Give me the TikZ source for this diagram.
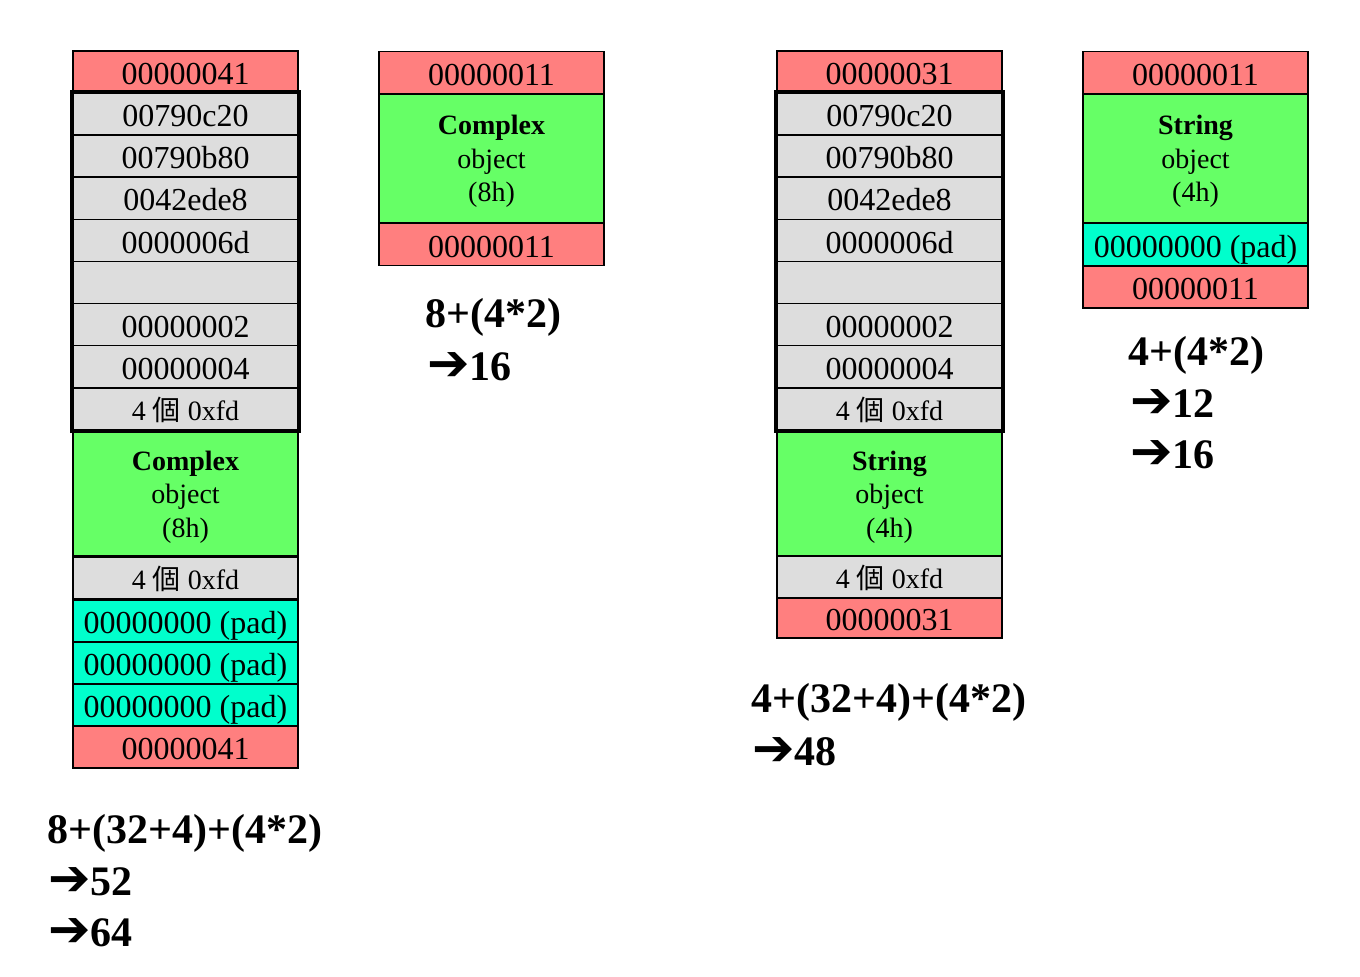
\documentclass[tikz,border=0pt]{standalone}
\usepackage{fontspec}
\setmainfont{Liberation Serif}
\newfontfamily\cjkfont{Noto Sans CJK TC}
\newfontfamily\symfont{DejaVu Sans}
\usetikzlibrary{positioning}
\definecolor{hdrred}{HTML}{FF7F7F}
\definecolor{cellgray}{HTML}{DDDDDD}
\definecolor{objgreen}{HTML}{66FF66}
\definecolor{padcyan}{HTML}{00FFCC}
\newcommand{\fdbytes}{4 {\cjkfont 個} 0xfd}
\newcommand{\arr}{{\symfont\bfseries\fontsize{38}{38}\selectfont ➔}}
\tikzset{
	cell/.style={draw,rectangle,line width=1.1pt,minimum width=168.75pt,minimum height=31.5pt,inner sep=0pt,text height=19pt,text depth=0pt,font=\fontsize{24}{26}\selectfont},
	hdr/.style={cell,fill=hdrred},
	word/.style={cell,fill=cellgray},
	fd/.style={word,text height=17pt,font=\fontsize{21}{24}\selectfont},
	obj/.style={draw,rectangle,line width=1.1pt,minimum width=168.75pt,inner sep=0pt,fill=objgreen,align=center,text depth=0pt,font=\fontsize{21}{25}\selectfont},
	pad/.style={cell,fill=padcyan},
	sum/.style={anchor=west,inner sep=0pt,font=\bfseries\fontsize{31.5}{34}\selectfont},
	block/.style={draw,line width=3pt}
}
\begin{document}
\begin{tikzpicture}[x=0.75pt,y=-0.75pt]
	\useasboundingbox (0,0) rectangle (1360,976);
	% Complex, debug heap
	\node[hdr] (ahead) at (185.5,72) {00000041};
	\foreach \t [count=\i] in {00790c20,00790b80,0042ede8,0000006d,{},00000002,00000004}
		\node[word] (a\i) at (185.5,{93+42.1*(\i-0.5)}) {\t};
	\node[fd] (a8) at (185.5,409.5) {\fdbytes};
	\draw[block] (a1.north west) rectangle (a8.south east);
	\node[obj,minimum height=93pt] (aobj) at (185.5,494) {\textbf{Complex}\\object\\(8h)};
	\node[fd] (afd) at (185.5,578) {\fdbytes};
	\node[pad] (apad1) at (185.5,621) {00000000 (pad)};
	\node[pad] (apad2) at (185.5,663) {00000000 (pad)};
	\node[pad] (apad3) at (185.5,705) {00000000 (pad)};
	\node[hdr] (atail) at (185.5,747) {00000041};
	\node[sum] (asum) at (47,833) {8+(32+4)+(4*2)};
	\node[sum] (ar1) at (48,882) {\arr52};
	\node[sum] (ar2) at (48,933) {\arr64};
	% Complex, release heap
	\node[hdr] (bhead) at (491.5,72.5) {00000011};
	\node[obj,minimum height=96.75pt] (bobj) at (491.5,158.5) {\textbf{Complex}\\object\\(8h)};
	\node[hdr] (btail) at (491.5,244.5) {00000011};
	\node[sum] (bsum) at (425,317) {8+(4*2)};
	\node[sum] (br1) at (427,367) {\arr16};
	% String, debug heap
	\node[hdr] (chead) at (889.5,72) {00000031};
	\foreach \t [count=\i] in {00790c20,00790b80,0042ede8,0000006d,{},00000002,00000004}
		\node[word] (c\i) at (889.5,{93+42.1*(\i-0.5)}) {\t};
	\node[fd] (c8) at (889.5,409.5) {\fdbytes};
	\draw[block] (c1.north west) rectangle (c8.south east);
	\node[obj,minimum height=93pt] (cobj) at (889.5,494) {\textbf{String}\\object\\(4h)};
	\node[fd] (cfd) at (889.5,577) {\fdbytes};
	\node[hdr,minimum height=30pt] (ctail) at (889.5,618) {00000031};
	\node[sum] (csum) at (751,702) {4+(32+4)+(4*2)};
	\node[sum] (cr1) at (752,752) {\arr48};
	% String, release heap
	\node[hdr] (dhead) at (1195.5,72.5) {00000011};
	\node[obj,minimum height=96.75pt] (dobj) at (1195.5,158.5) {\textbf{String}\\object\\(4h)};
	\node[pad] (dpad) at (1195.5,244.5) {00000000 (pad)};
	\node[hdr] (dtail) at (1195.5,287) {00000011};
	\node[sum] (dsum) at (1128,355) {4+(4*2)};
	\node[sum] (dr1) at (1130,404) {\arr12};
	\node[sum] (dr2) at (1130,455) {\arr16};
\end{tikzpicture}
\end{document}
